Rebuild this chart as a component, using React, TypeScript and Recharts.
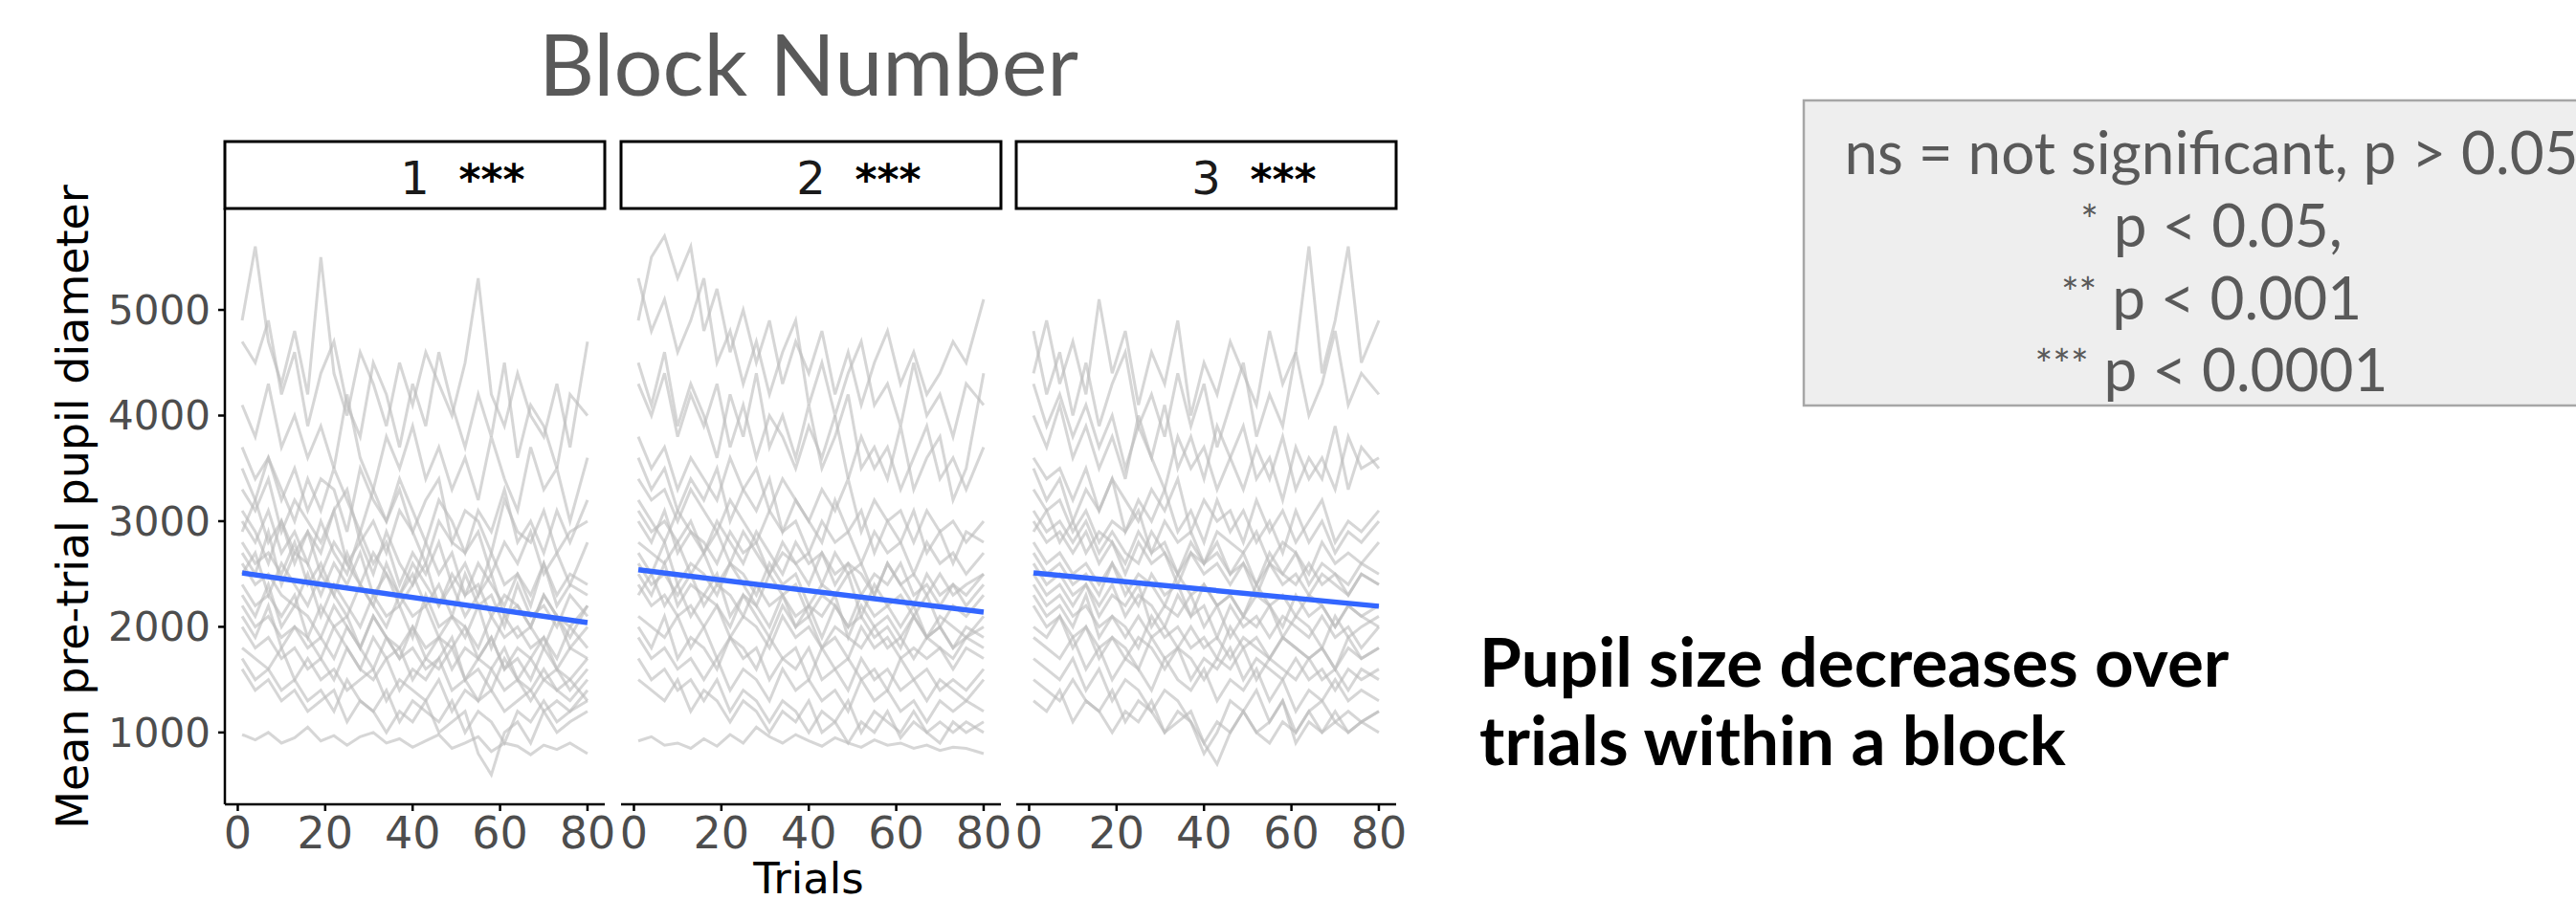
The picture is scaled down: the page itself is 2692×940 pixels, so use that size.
import { LineChart, Line, XAxis, YAxis } from "recharts";

// trials sampled every 3rd trial (first and last kept)
const TRIALS = [1, 4, 7, 10, 13, 16, 19, 22, 25, 28, 31, 34, 37, 40, 43, 46, 49, 52, 55, 58, 61, 64, 67, 70, 73, 76, 80];
const TRIAL_TICKS = [0, 20, 40, 60, 80];
const PUPIL_TICKS = [1000, 2000, 3000, 4000, 5000];
const BLOCKS = ["1", "2", "3"];
const BLOCK_STARS = ["***", "***", "***"];

// linear fit per block (value at trial 1 and trial 80)
const FIT_START = [2510, 2540, 2510];
const FIT_END = [2040, 2140, 2195];

const BLOCK1_LINES = [
  [4900, 5600, 4700, 4300, 4800, 4200, 5500, 4400, 4000, 4600, 4300, 3900, 4500, 4100, 4600, 4300, 4000, 4500, 5300, 4200, 3900, 4400, 4000, 3800, 4300, 3700, 4700],
  [4700, 4500, 4900, 4200, 4600, 3900, 4400, 4700, 4100, 3800, 4500, 4200, 3700, 4300, 3900, 4600, 4100, 3700, 4200, 3800, 4500, 3600, 4100, 3900, 3500, 4200, 4000],
  [4100, 3800, 4300, 3700, 4000, 3600, 3900, 3500, 4200, 3600, 3300, 3800, 3500, 3900, 3400, 3700, 3300, 3600, 3200, 3800, 3400, 3100, 3700, 3300, 3500, 3000, 3600],
  [3700, 3400, 3600, 3200, 3500, 3100, 3400, 3300, 2900, 3500, 3200, 3000, 3300, 2900, 3200, 3400, 2800, 3100, 3000, 2700, 3200, 2900, 2800, 3100, 2700, 2900, 3000],
  [3500, 3200, 3600, 3300, 3000, 3400, 3100, 3500, 3200, 2900, 3300, 3000, 3400, 3100, 2800, 3200, 3000, 2700, 3100, 2900, 3300, 2800, 3000, 2700, 3100, 2800, 3200],
  [3300, 3100, 3400, 2900, 3200, 3000, 2800, 3100, 3300, 2800, 3000, 2700, 3100, 2900, 2600, 3000, 2800, 2700, 2900, 2500, 2800, 2600, 2900, 2500, 2700, 2400, 2800],
  [3100, 2900, 2600, 3000, 2700, 2900, 2500, 2800, 2600, 2400, 2700, 2500, 2300, 2600, 2400, 2200, 2500, 2300, 2400, 2100, 2300, 2200, 2000, 2300, 2100, 1900, 2200],
  [3000, 2800, 3100, 2700, 2900, 2600, 3000, 2700, 2500, 2900, 2600, 2800, 2400, 2700, 2500, 2800, 2400, 2600, 2300, 2700, 2400, 2500, 2200, 2600, 2300, 2500, 2400],
  [2900, 3200, 2800, 3000, 2600, 2900, 2700, 3100, 2600, 2800, 2500, 2900, 2600, 2400, 2800, 2500, 2700, 2300, 2600, 2400, 2200, 2500, 2300, 2600, 2200, 2400, 2300],
  [2800, 2600, 2700, 2500, 2800, 2400, 2600, 2300, 2700, 2400, 2200, 2600, 2300, 2500, 2200, 2400, 2100, 2500, 2200, 2300, 2000, 2400, 2100, 2200, 2000, 2300, 2100],
  [2700, 2500, 2900, 2400, 2700, 2600, 2300, 2600, 2400, 2700, 2300, 2500, 2200, 2400, 2600, 2200, 2400, 2100, 2300, 2500, 2100, 2200, 2000, 2300, 2100, 2000, 2200],
  [2600, 2400, 2500, 2300, 2200, 2500, 2100, 2400, 2200, 2000, 2300, 2100, 2200, 1900, 2300, 2000, 2100, 1900, 2200, 1800, 2100, 1900, 2000, 1800, 2100, 1800, 2000],
  [2500, 2700, 2300, 2600, 2400, 2200, 2500, 2300, 2100, 2400, 2200, 2000, 2300, 2100, 2200, 1900, 2100, 2000, 1800, 2100, 1900, 2000, 1800, 1900, 1700, 2000, 1800],
  [2400, 2200, 2300, 2100, 2300, 1900, 2200, 2000, 2100, 1800, 2100, 1900, 1800, 2000, 1700, 1900, 1800, 2000, 1700, 1900, 1600, 1800, 1700, 1900, 1600, 1800, 1700],
  [2300, 2100, 2400, 2000, 2200, 2100, 1900, 2200, 2000, 1800, 2100, 1900, 1700, 2000, 1800, 1900, 1600, 1800, 1700, 1900, 1600, 1700, 1500, 1800, 1600, 1500, 1700],
  [2200, 2000, 2100, 1900, 2000, 1800, 1900, 1700, 2000, 1800, 1600, 1900, 1700, 1800, 1600, 1700, 1900, 1500, 1700, 1600, 1800, 1500, 1700, 1500, 1600, 1400, 1600],
  [2100, 1900, 2200, 1800, 2000, 1900, 1700, 2000, 1800, 1600, 1900, 1700, 1800, 1500, 1700, 1600, 1800, 1500, 1600, 1400, 1700, 1500, 1400, 1600, 1400, 1500, 1300],
  [2000, 1800, 1900, 1700, 1800, 1600, 1700, 1500, 1800, 1600, 1500, 1700, 1400, 1600, 1500, 1700, 1400, 1500, 1300, 1600, 1400, 1500, 1300, 1500, 1400, 1300, 1500],
  [1800, 1700, 1600, 1800, 1500, 1700, 1500, 1600, 1400, 1500, 1600, 1300, 1500, 1400, 1300, 1500, 1200, 1400, 1300, 1400, 1200, 1300, 1400, 1200, 1300, 1200, 1400],
  [1700, 1500, 1600, 1400, 1500, 1300, 1400, 1200, 1500, 1300, 1200, 1400, 1100, 1300, 1200, 1100, 1300, 1000, 1200, 1100, 900, 1200, 1100, 1300, 1100, 1200, 1300],
  [1600, 1400, 1500, 1300, 1400, 1200, 1300, 1400, 1100, 1300, 1200, 1000, 1200, 1100, 1300, 1000, 1100, 1200, 800, 600, 1000, 1100, 900, 1200, 1000, 1100, 1200],
  [980, 930, 1000, 900, 950, 1050, 920, 970, 880, 960, 1000, 900, 940, 860, 920, 980, 850, 900, 960, 820, 900, 870, 790, 880, 840, 900, 800],
];

const BLOCK2_LINES = [
  [4900, 5500, 5700, 5300, 5600, 4800, 5200, 4600, 5000, 4500, 4900, 4300, 4700, 4400, 4800, 4200, 4600, 4100, 4500, 4800, 4300, 4600, 4200, 4400, 4700, 4500, 5100],
  [5300, 4800, 5100, 4600, 4900, 5300, 4500, 4800, 4300, 4700, 4200, 4600, 4900, 4100, 4500, 4000, 4400, 4700, 4100, 4300, 3900, 4500, 4000, 4200, 3800, 4300, 4100],
  [4500, 4100, 4600, 3900, 4300, 4000, 3600, 4200, 3800, 4400, 3700, 4000, 3600, 4100, 3500, 3800, 4200, 3500, 3700, 3400, 3900, 3300, 3600, 3800, 3200, 3500, 4400],
  [4300, 4000, 4400, 3800, 4200, 3900, 4300, 3700, 4100, 3600, 4000, 3800, 3500, 3900, 3600, 4000, 3400, 3800, 3500, 3700, 3300, 3600, 3900, 3400, 3600, 3300, 3700],
  [3800, 3500, 3700, 3300, 3600, 3400, 3200, 3600, 3300, 3500, 3100, 3400, 3200, 3000, 3300, 3100, 3400, 2900, 3200, 3000, 3100, 2800, 3100, 2900, 3000, 2800, 3000],
  [3600, 3300, 3500, 3100, 3400, 3200, 3500, 3000, 3300, 3100, 3400, 2900, 3200, 3000, 2800, 3200, 2900, 3100, 2700, 3000, 2800, 3100, 2700, 2900, 2600, 2900, 2800],
  [3400, 3200, 3300, 3000, 3300, 3100, 2900, 3200, 3000, 2800, 3100, 2900, 3000, 2700, 3000, 2800, 2900, 2600, 2900, 2700, 2800, 2500, 2800, 2600, 2700, 2500, 2700],
  [3200, 3000, 2800, 3100, 2900, 2700, 3000, 2800, 2600, 2900, 2700, 2500, 2800, 2600, 2700, 2400, 2600, 2500, 2300, 2600, 2400, 2200, 2500, 2300, 2400, 2200, 2400],
  [3100, 2900, 3000, 2800, 3000, 2700, 2900, 2600, 2900, 2700, 2500, 2800, 2600, 2700, 2400, 2700, 2500, 2600, 2300, 2600, 2400, 2500, 2300, 2500, 2300, 2400, 2500],
  [3000, 2800, 3100, 2700, 2900, 2800, 2600, 2900, 2700, 2800, 2500, 2700, 2600, 2400, 2700, 2500, 2600, 2300, 2500, 2400, 2600, 2300, 2400, 2200, 2400, 2300, 2500],
  [2800, 2700, 2600, 2800, 2500, 2700, 2400, 2600, 2500, 2300, 2600, 2400, 2500, 2200, 2400, 2300, 2500, 2100, 2400, 2200, 2300, 2100, 2300, 2000, 2200, 2100, 2300],
  [2700, 2500, 2800, 2400, 2600, 2500, 2300, 2600, 2400, 2200, 2500, 2300, 2400, 2100, 2300, 2200, 2000, 2300, 2100, 2200, 2000, 2200, 1900, 2100, 2000, 1900, 2100],
  [2600, 2400, 2500, 2300, 2500, 2200, 2400, 2300, 2100, 2400, 2200, 2300, 2000, 2200, 2100, 2300, 1900, 2200, 2000, 2100, 1900, 2100, 1900, 2000, 1800, 2000, 1900],
  [2500, 2300, 2600, 2200, 2400, 2300, 2500, 2100, 2300, 2200, 2000, 2300, 2100, 2200, 1900, 2200, 2000, 2100, 1900, 2000, 1800, 2100, 1900, 2000, 1800, 1900, 2000],
  [2400, 2200, 2300, 2100, 2200, 2000, 2200, 1900, 2100, 2000, 1800, 2100, 1900, 2000, 1800, 1900, 1700, 2000, 1800, 1900, 1700, 1800, 1700, 1800, 1600, 1800, 1700],
  [2300, 2500, 2200, 2400, 2100, 2300, 2200, 2000, 2300, 2100, 1900, 2200, 2000, 2100, 1800, 2000, 1900, 1800, 2000, 1800, 1900, 1700, 1900, 1800, 1700, 1900, 1800],
  [2100, 2000, 1900, 2100, 1800, 2000, 1700, 1900, 1800, 1600, 1900, 1700, 1800, 1500, 1800, 1600, 1700, 1500, 1600, 1400, 1700, 1500, 1600, 1400, 1500, 1400, 1600],
  [2000, 1800, 2100, 1700, 1900, 1800, 1600, 1900, 1700, 1800, 1500, 1700, 1600, 1800, 1500, 1600, 1400, 1700, 1500, 1600, 1400, 1500, 1300, 1500, 1400, 1300, 1500],
  [1900, 1700, 1800, 1600, 1700, 1500, 1700, 1400, 1600, 1500, 1300, 1600, 1400, 1500, 1300, 1400, 1200, 1500, 1300, 1400, 1200, 1300, 1100, 1300, 1200, 1300, 1200],
  [1700, 1500, 1600, 1400, 1500, 1300, 1500, 1200, 1400, 1300, 1100, 1300, 1200, 1000, 1200, 1100, 1300, 1000, 1200, 1100, 1000, 1200, 1000, 1100, 1000, 1100, 1000],
  [1500, 1400, 1300, 1500, 1200, 1400, 1300, 1100, 1300, 1200, 1000, 1200, 1100, 1300, 1000, 1100, 900, 1100, 1000, 1200, 950, 1100, 1000, 900, 1100, 1000, 1100],
  [920, 960, 880, 900, 850, 940, 870, 980, 900, 1050, 960, 900, 980, 920, 870, 950, 900, 860, 930, 880, 900, 850, 880, 830, 860, 850, 800],
];

const BLOCK3_LINES = [
  [4400, 4900, 4300, 4700, 4200, 5100, 4400, 4800, 4100, 4600, 4300, 4900, 4000, 4500, 4200, 4700, 4400, 4100, 4800, 4300, 4600, 5600, 4400, 4900, 5600, 4500, 4900],
  [4800, 4200, 4600, 4000, 4500, 3900, 4300, 4600, 3900, 4200, 3800, 4400, 3900, 4300, 3700, 4100, 4500, 3800, 4200, 3900, 4600, 4000, 4300, 4800, 4100, 4400, 4200],
  [4300, 3900, 4200, 3800, 4100, 3700, 4000, 3500, 3900, 3600, 4100, 3500, 3800, 3400, 3900, 3600, 3300, 3700, 3400, 3800, 3300, 3600, 3400, 3900, 3300, 3700, 3500],
  [4000, 3700, 4100, 3600, 3900, 3500, 3800, 3400, 4000, 3600, 3300, 3800, 3500, 3700, 3300, 3600, 3900, 3400, 3600, 3200, 3700, 3400, 3600, 3300, 3800, 3500, 3600],
  [3600, 3400, 3500, 3200, 3500, 3100, 3400, 3200, 3000, 3300, 3100, 3400, 2900, 3200, 3000, 3100, 2800, 3200, 2900, 3100, 2800, 3000, 3200, 2800, 3000, 2900, 3100],
  [3500, 3200, 3400, 3000, 3300, 3100, 3400, 2900, 3200, 3000, 3300, 2900, 3100, 2800, 3200, 2900, 3100, 2800, 3000, 2700, 3100, 2800, 3000, 2700, 2900, 2800, 3000],
  [3300, 3100, 3200, 2900, 3100, 2800, 3000, 2900, 3100, 2700, 3000, 2800, 2900, 2600, 2900, 2800, 2700, 2900, 2600, 2800, 2700, 2500, 2800, 2600, 2700, 2600, 2800],
  [3100, 2900, 3000, 2800, 3000, 2700, 2900, 2700, 2600, 2900, 2700, 2500, 2800, 2600, 2700, 2500, 2600, 2400, 2700, 2500, 2400, 2600, 2400, 2500, 2300, 2500, 2400],
  [3000, 2800, 2900, 2700, 2900, 2600, 2800, 2500, 2800, 2600, 2700, 2400, 2700, 2500, 2600, 2400, 2600, 2300, 2600, 2400, 2500, 2300, 2500, 2400, 2300, 2500, 2400],
  [2900, 3100, 2800, 3000, 2700, 2900, 2800, 2600, 2900, 2700, 2800, 2500, 2700, 2600, 2800, 2500, 2700, 2400, 2600, 2500, 2700, 2400, 2600, 2500, 2400, 2600, 2500],
  [2800, 2600, 2700, 2500, 2600, 2400, 2600, 2300, 2500, 2400, 2200, 2500, 2300, 2400, 2200, 2300, 2100, 2400, 2200, 2300, 2100, 2300, 2200, 2000, 2200, 2100, 2200],
  [2700, 2500, 2600, 2400, 2500, 2300, 2600, 2400, 2200, 2500, 2300, 2400, 2100, 2400, 2200, 2300, 2100, 2300, 2200, 2000, 2300, 2100, 2200, 2000, 2200, 2100, 2000],
  [2600, 2400, 2500, 2300, 2400, 2200, 2400, 2100, 2300, 2200, 2000, 2300, 2100, 2200, 1900, 2200, 2000, 2100, 1900, 2100, 2000, 1900, 2100, 1900, 2000, 1800, 2000],
  [2500, 2300, 2400, 2200, 2400, 2100, 2300, 2200, 2400, 2000, 2200, 2100, 2300, 2000, 2200, 1900, 2100, 2000, 2200, 1900, 2100, 2000, 1800, 2100, 1900, 2000, 2100],
  [2400, 2200, 2300, 2100, 2200, 2000, 2100, 1900, 2100, 1900, 2000, 1800, 2000, 1800, 1900, 1700, 1900, 1800, 1700, 1900, 1800, 1700, 1800, 1600, 1800, 1700, 1800],
  [2300, 2100, 2200, 2000, 2300, 1900, 2100, 2000, 1800, 2100, 1900, 2000, 1800, 1900, 1700, 2000, 1800, 1900, 1700, 1900, 1800, 1700, 1800, 1600, 1900, 1700, 1800],
  [2200, 2000, 2100, 1900, 2000, 1800, 1900, 1700, 1900, 1800, 1600, 1800, 1700, 1500, 1700, 1600, 1800, 1500, 1700, 1600, 1500, 1700, 1500, 1600, 1400, 1600, 1500],
  [2000, 1900, 2100, 1800, 2000, 1700, 1900, 1800, 1600, 1900, 1700, 1800, 1500, 1700, 1600, 1800, 1500, 1700, 1600, 1500, 1700, 1500, 1600, 1400, 1600, 1500, 1600],
  [1900, 1800, 1700, 1900, 1600, 1800, 1500, 1700, 1600, 1400, 1700, 1500, 1400, 1600, 1300, 1500, 1400, 1600, 1300, 1500, 1200, 1400, 1300, 1500, 1300, 1400, 1300],
  [1700, 1600, 1500, 1700, 1400, 1600, 1300, 1500, 1400, 1200, 1400, 1300, 1100, 800, 1000, 1300, 1200, 1400, 1100, 1300, 1000, 1200, 1300, 1100, 1200, 1100, 1200],
  [1500, 1400, 1300, 1500, 1300, 1200, 1400, 1100, 1300, 1200, 1000, 1200, 1100, 900, 700, 1000, 1200, 1000, 1100, 1300, 900, 1100, 1000, 1200, 1000, 1100, 1200],
  [1300, 1200, 1400, 1100, 1300, 1200, 1000, 1200, 1100, 1300, 1000, 1100, 1200, 900, 1100, 1000, 1200, 1000, 900, 1100, 1000, 1200, 1000, 1100, 1000, 1100, 1000],
];

const BLOCK_LINES = [BLOCK1_LINES, BLOCK2_LINES, BLOCK3_LINES];

// layout (px)
const PANEL_LEFT = [235, 649, 1062];
const PANEL_W = 397;
const PLOT_TOP = 218;
const PLOT_BOTTOM = 841;
const H = 940;
const PAD = 20;

const AXIS_FONT = "DejaVu Sans";
const SLIDE_FONT = "Lato";

const Panel = ({ index }: { index: number }) => {
  const lines = BLOCK_LINES[index];
  const last = TRIALS.length - 1;
  const data = TRIALS.map((trial, i) => {
    const row: Record<string, number | null> = { trial };
    lines.forEach((ln, k) => {
      row[`p${k}`] = ln[i];
    });
    row.fit = i === 0 ? FIT_START[index] : i === last ? FIT_END[index] : null;
    return row;
  });

  const showY = index === 0;
  const leftSpace = showY ? PANEL_LEFT[0] : PAD;
  const chartLeft = PANEL_LEFT[index] - leftSpace;
  const width = leftSpace + PANEL_W + PAD;

  return (
    <div style={{ position: "absolute", left: chartLeft, top: 0 }}>
      <LineChart
        width={width}
        height={H}
        data={data}
        margin={{ top: PLOT_TOP, right: PAD, bottom: 0, left: showY ? 0 : PAD }}
      >
        <XAxis
          dataKey="trial"
          type="number"
          domain={[-2.95, 83.95]}
          ticks={TRIAL_TICKS}
          interval={0}
          allowDataOverflow
          height={H - PLOT_BOTTOM}
          tickSize={7}
          tickMargin={6}
          axisLine={{ stroke: "#000", strokeWidth: 2.5 }}
          tickLine={{ stroke: "#000", strokeWidth: 2.5 }}
          tick={{ fill: "#4d4d4d", fontSize: 46, fontFamily: AXIS_FONT }}
        />
        <YAxis
          type="number"
          domain={[320, 5960]}
          ticks={PUPIL_TICKS}
          interval={0}
          allowDataOverflow
          hide={!showY}
          width={PANEL_LEFT[0]}
          tickSize={7}
          tickMargin={8}
          axisLine={{ stroke: "#000", strokeWidth: 2.5 }}
          tickLine={{ stroke: "#000", strokeWidth: 2.5 }}
          tick={{ fill: "#4d4d4d", fontSize: 42, fontFamily: AXIS_FONT }}
        />
        {lines.map((_, k) => (
          <Line
            key={k}
            dataKey={`p${k}`}
            stroke="#bdbdbd"
            strokeOpacity={0.62}
            strokeWidth={3}
            dot={false}
            isAnimationActive={false}
          />
        ))}
        <Line
          dataKey="fit"
          stroke="#3366FF"
          strokeWidth={5.5}
          dot={false}
          connectNulls
          isAnimationActive={false}
        />
      </LineChart>
    </div>
  );
};

export default function App() {
  const legendX = 2311;
  return (
    <div
      style={{
        position: "absolute",
        left: 0,
        top: 0,
        width: 2692,
        height: H,
        overflow: "hidden",
        background: "#fff",
      }}
    >
      {BLOCKS.map((_, i) => (
        <Panel key={i} index={i} />
      ))}
      <svg
        width={2692}
        height={H}
        style={{ position: "absolute", left: 0, top: 0, pointerEvents: "none" }}
      >
        <text x={845} y={100} textAnchor="middle" fontFamily={SLIDE_FONT} fontSize={90} fill="#595959">
          Block Number
        </text>

        {BLOCKS.map((b, i) => {
          const cx = PANEL_LEFT[i] + PANEL_W / 2;
          return (
            <g key={b}>
              <rect x={PANEL_LEFT[i]} y={148} width={PANEL_W} height={70} fill="#fff" stroke="#000" strokeWidth={3} />
              <text x={cx} y={203} textAnchor="middle" fontFamily={AXIS_FONT} fontSize={48} fill="#1a1a1a">
                {b}
              </text>
              <text x={cx + 46} y={203} fontFamily={AXIS_FONT} fontWeight="bold" fontSize={44} fill="#000">
                {BLOCK_STARS[i]}
              </text>
            </g>
          );
        })}

        <text
          transform="translate(92,530) rotate(-90)"
          textAnchor="middle"
          fontFamily={AXIS_FONT}
          fontSize={46}
          fill="#000"
        >
          Mean pre-trial pupil diameter
        </text>
        <text x={845} y={934} textAnchor="middle" fontFamily={AXIS_FONT} fontSize={45} fill="#000">
          Trials
        </text>

        <rect x={1885} y={105} width={840} height={319} fill="#eeeeee" stroke="#a6a6a6" strokeWidth={2.5} />
        <g fontFamily={SLIDE_FONT} fontSize={62} fill="#595959" textAnchor="middle">
          <text x={legendX} y={182}>ns = not significant, p &gt; 0.05</text>
          <text x={legendX} y={258}>
            <tspan fontSize={44} dy={-12}>*</tspan>
            <tspan dy={12}> p &lt; 0.05,</tspan>
          </text>
          <text x={legendX} y={334}>
            <tspan fontSize={44} dy={-12}>**</tspan>
            <tspan dy={12}> p &lt; 0.001</tspan>
          </text>
          <text x={legendX} y={409}>
            <tspan fontSize={44} dy={-12}>***</tspan>
            <tspan dy={12}> p &lt; 0.0001</tspan>
          </text>
        </g>

        <g fontFamily={SLIDE_FONT} fontWeight="bold" fontSize={71} fill="#000">
          <text x={1546} y={718}>Pupil size decreases over</text>
          <text x={1546} y={800}>trials within a block</text>
        </g>
      </svg>
    </div>
  );
}
